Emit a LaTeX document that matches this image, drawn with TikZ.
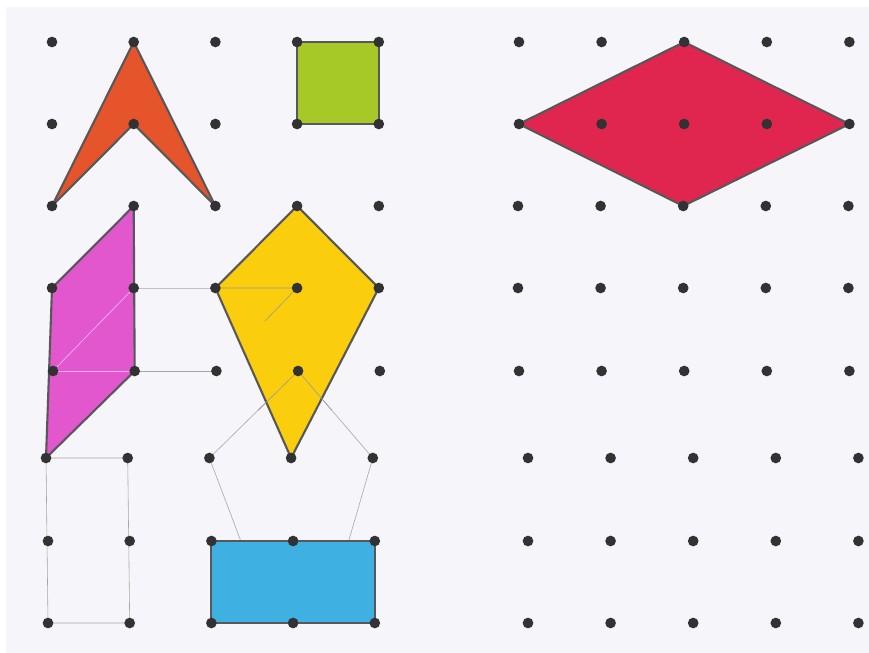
\documentclass[tikz,border=0pt]{standalone}
\usetikzlibrary{calc}
\definecolor{paper}{RGB}{246,245,249}
\definecolor{dotgray}{RGB}{50,50,52}
\definecolor{edgegray}{RGB}{88,88,90}
\definecolor{crayonorange}{RGB}{229,84,42}
\definecolor{crayongreen}{RGB}{166,201,40}
\definecolor{crayonred}{RGB}{224,38,78}
\definecolor{crayonpink}{RGB}{226,86,206}
\definecolor{crayonyellow}{RGB}{250,206,12}
\definecolor{crayonblue}{RGB}{62,176,226}
\tikzset{
    dotmark/.style = {fill=dotgray},
    shapeedge/.style = {draw=edgegray, line width=1.8pt, line join=round},
    pencil/.style = {draw=gray!70, line width=0.5pt},
    streak/.style = {draw=white, opacity=0.55, line width=0.6pt}
}

\begin{document}
\begin{tikzpicture}[x=0.03cm, y=-0.03cm]
        \useasboundingbox (0,0) rectangle (869,653);
        \fill [paper] (6,7) rectangle (869,653);
        \foreach \r/\y/\lx/\rx in {0/42/52/519, 1/124/52/519, 2/206/52/518, 3/288/52/518,
                                   4/371/53/519, 5/458/46/528, 6/541/48/528, 7/623/48/528} {
            \foreach \c in {0,...,4}
                \coordinate (d\r-\c) at ({\lx+81.7*\c},\y);
            \foreach \c in {5,...,9}
                \coordinate (d\r-\c) at ({\rx+82.6*(\c-5)},\y);
        }
        \draw [pencil] (d3-1) -- (d3-2) -- (d3-3);
        \draw [pencil] (d4-1) -- (d4-2);
        \draw [pencil] (d5-0) -- (d5-1) -- (d7-1) -- (d7-0) -- cycle;
        \draw [pencil] (d4-3) -- (d5-2) -- ($(d6-2)!0.36!(d6-3)$);
        \draw [pencil] (d4-3) -- (d5-4) -- ($(d6-4)!0.32!(d6-3)$);
        \filldraw [fill=crayonorange, shapeedge] (d2-0) -- (d0-1) -- (d2-2) -- (d1-1) -- cycle;
        \filldraw [fill=crayongreen, shapeedge] (d0-3) -- (d0-4) -- (d1-4) -- (d1-3) -- cycle;
        \filldraw [fill=crayonred, shapeedge] (d1-5) -- (d0-7) -- (d1-9) -- (d2-7) -- cycle;
        \filldraw [fill=crayonpink, shapeedge] (d3-0) -- (d2-1) -- (d4-1) -- (d5-0) -- cycle;
        \draw [streak] (d3-1) -- ($(d4-0)!0.05!(d3-1)$);
        \draw [streak] (d4-0) -- (d4-1);
        \filldraw [fill=crayonyellow, shapeedge] (d2-3) -- (d3-2) -- (d5-3) -- (d3-4) -- cycle;
        \draw [pencil, gray!80] (d3-2) -- (d3-3) -- ($(d3-3)!0.4!(d4-2)$);
        \draw [pencil, gray!80] (d4-3) -- ($(d4-3)!0.45!(d5-2)$);
        \draw [pencil, gray!80] (d4-3) -- ($(d4-3)!0.45!(d5-4)$);
        \filldraw [fill=crayonblue, shapeedge] (d6-2) -- (d6-4) -- (d7-4) -- (d7-2) -- cycle;
        \foreach \r in {0,...,7}
            \foreach \c in {0,...,9}
                \fill [dotmark] (d\r-\c) circle [radius=0.16cm];
\end{tikzpicture}
\end{document}
